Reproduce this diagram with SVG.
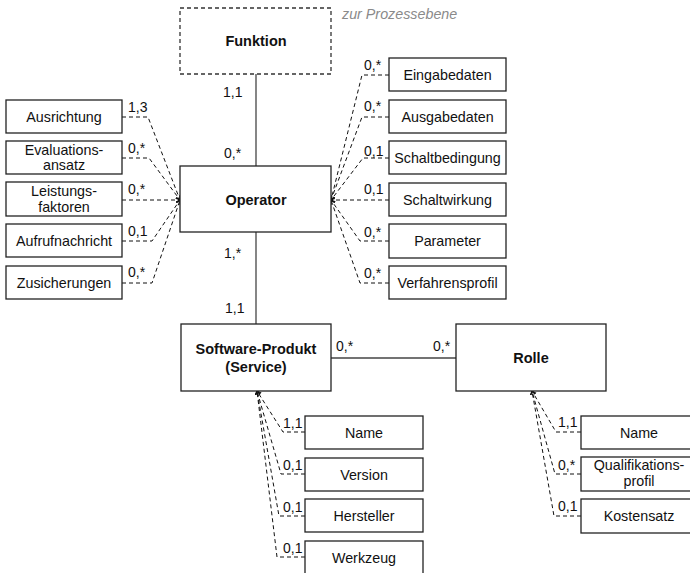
<svg xmlns="http://www.w3.org/2000/svg" width="690" height="573" viewBox="0 0 690 573">
  <style>
    .box { fill: #fff; stroke: #222; stroke-width: 1.3; }
    .dbox { fill: #fff; stroke: #333; stroke-width: 1.3; stroke-dasharray: 4 3; }
    .t { font-family: "Liberation Sans", Arial, sans-serif; font-size: 14.3px; fill: #111; text-anchor: middle; }
    .b { font-weight: bold; font-size: 14.5px; }
    .lbl { font-family: "Liberation Sans", Arial, sans-serif; font-size: 14px; fill: #111; }
    .note { font-family: "Liberation Sans", Arial, sans-serif; font-size: 14.3px; font-style: italic; fill: #8a8a8a; }
    .solid { fill: none; stroke: #444; stroke-width: 1.3; }
    .dash { fill: none; stroke: #111; stroke-width: 1; stroke-dasharray: 4 3; marker-end: url(#tip); }
  </style>
  <defs>
    <marker id="tip" markerUnits="userSpaceOnUse" markerWidth="6" markerHeight="6" refX="4" refY="2.5" orient="auto">
      <path d="M0,0 L4,2.5 L0,5" fill="none" stroke="#111" stroke-width="1"/>
    </marker>
  </defs>

  <!-- connectors -->
  <g id="connectors">
    <path class="solid" d="M256,74 V166"/>
    <path class="solid" d="M256,232 V324"/>
    <path class="solid" d="M331,358 H456"/>

    <path class="dash" d="M122,117 H148 L180,200"/>
    <path class="dash" d="M122,158 H149 L180,200"/>
    <path class="dash" d="M122,200 H180"/>
    <path class="dash" d="M122,241 H152 L180,200"/>
    <path class="dash" d="M122,283 H152 L180,200"/>

    <path class="dash" d="M389,75 H362 L331,200"/>
    <path class="dash" d="M389,117 H362 L331,200"/>
    <path class="dash" d="M389,158 H363 L331,200"/>
    <path class="dash" d="M389,200 H331"/>
    <path class="dash" d="M389,241 H360 L331,200"/>
    <path class="dash" d="M389,283 H360 L331,200"/>

    <path class="dash" d="M305,432 H283 L257,391"/>
    <path class="dash" d="M305,474 H281 L257,391"/>
    <path class="dash" d="M305,516 H279 L257,391"/>
    <path class="dash" d="M305,557 H277 L257,391"/>

    <path class="dash" d="M581,432 H556 L532,391"/>
    <path class="dash" d="M581,474 H555 L532,391"/>
    <path class="dash" d="M581,516 H554 L532,391"/>

    <!-- multiplicities -->
    <text class="lbl" x="223" y="97">1,1</text>
    <text class="lbl" x="224" y="158">0,*</text>
    <text class="lbl" x="224" y="258">1,*</text>
    <text class="lbl" x="225" y="313">1,1</text>
    <text class="lbl" x="336" y="351">0,*</text>
    <text class="lbl" x="433" y="351">0,*</text>

    <text class="lbl" x="128" y="112">1,3</text>
    <text class="lbl" x="128" y="153">0,*</text>
    <text class="lbl" x="128" y="194">0,*</text>
    <text class="lbl" x="128" y="236">0,1</text>
    <text class="lbl" x="128" y="277">0,*</text>

    <text class="lbl" x="364" y="70">0,*</text>
    <text class="lbl" x="364" y="111">0,*</text>
    <text class="lbl" x="364" y="156">0,1</text>
    <text class="lbl" x="364" y="194">0,1</text>
    <text class="lbl" x="364" y="237">0,*</text>
    <text class="lbl" x="364" y="278">0,*</text>

    <text class="lbl" x="283" y="428">1,1</text>
    <text class="lbl" x="283" y="470">0,1</text>
    <text class="lbl" x="283" y="512">0,1</text>
    <text class="lbl" x="283" y="553">0,1</text>

    <text class="lbl" x="558" y="427">1,1</text>
    <text class="lbl" x="558" y="470">0,*</text>
    <text class="lbl" x="558" y="511">0,1</text>
  </g>

  <!-- main entities -->
  <g id="funktion">
    <rect class="dbox" x="180" y="8" width="151" height="66"/>
    <text class="t b" x="256" y="46">Funktion</text>
    <text class="note" x="342" y="19">zur Prozessebene</text>
  </g>
  <g id="operator">
    <rect class="box" x="180" y="166" width="151" height="66"/>
    <text class="t b" x="256" y="205">Operator</text>
  </g>
  <g id="software-produkt">
    <rect class="box" x="181" y="324" width="150" height="67"/>
    <text class="t b" x="256" y="354">Software-Produkt</text>
    <text class="t b" x="256" y="372">(Service)</text>
  </g>
  <g id="rolle">
    <rect class="box" x="456" y="324" width="150" height="67"/>
    <text class="t b" x="531" y="363">Rolle</text>
  </g>

  <!-- operator attributes, left -->
  <g id="ausrichtung">
    <rect class="box" x="6" y="100" width="116" height="33"/>
    <text class="t" x="64" y="121.5">Ausrichtung</text>
  </g>
  <g id="evaluationsansatz">
    <rect class="box" x="6" y="141" width="116" height="33"/>
    <text class="t" x="64" y="155">Evaluations-</text>
    <text class="t" x="64" y="170">ansatz</text>
  </g>
  <g id="leistungsfaktoren">
    <rect class="box" x="6" y="182" width="116" height="34"/>
    <text class="t" x="64" y="196">Leistungs-</text>
    <text class="t" x="64" y="212">faktoren</text>
  </g>
  <g id="aufrufnachricht">
    <rect class="box" x="6" y="224" width="116" height="33"/>
    <text class="t" x="64" y="245.5">Aufrufnachricht</text>
  </g>
  <g id="zusicherungen">
    <rect class="box" x="6" y="266" width="116" height="33"/>
    <text class="t" x="64" y="287.5">Zusicherungen</text>
  </g>

  <!-- operator attributes, right -->
  <g id="eingabedaten">
    <rect class="box" x="389" y="58" width="117" height="33"/>
    <text class="t" x="447.5" y="79.5">Eingabedaten</text>
  </g>
  <g id="ausgabedaten">
    <rect class="box" x="389" y="100" width="117" height="33"/>
    <text class="t" x="447.5" y="121.5">Ausgabedaten</text>
  </g>
  <g id="schaltbedingung">
    <rect class="box" x="389" y="141" width="117" height="33"/>
    <text class="t" x="447.5" y="162.5">Schaltbedingung</text>
  </g>
  <g id="schaltwirkung">
    <rect class="box" x="389" y="183" width="117" height="33"/>
    <text class="t" x="447.5" y="204.5">Schaltwirkung</text>
  </g>
  <g id="parameter">
    <rect class="box" x="389" y="224" width="117" height="34"/>
    <text class="t" x="447.5" y="246">Parameter</text>
  </g>
  <g id="verfahrensprofil">
    <rect class="box" x="389" y="266" width="117" height="33"/>
    <text class="t" x="447.5" y="287.5">Verfahrensprofil</text>
  </g>

  <!-- software product attributes -->
  <g id="sw-name">
    <rect class="box" x="305" y="416" width="118" height="33"/>
    <text class="t" x="364" y="437.5">Name</text>
  </g>
  <g id="sw-version">
    <rect class="box" x="305" y="458" width="118" height="33"/>
    <text class="t" x="364" y="479.5">Version</text>
  </g>
  <g id="sw-hersteller">
    <rect class="box" x="305" y="499" width="118" height="33"/>
    <text class="t" x="364" y="520.5">Hersteller</text>
  </g>
  <g id="sw-werkzeug">
    <rect class="box" x="305" y="541" width="118" height="33"/>
    <text class="t" x="364" y="562.5">Werkzeug</text>
  </g>

  <!-- role attributes -->
  <g id="rolle-name">
    <rect class="box" x="581" y="416" width="116" height="33"/>
    <text class="t" x="639" y="437.5">Name</text>
  </g>
  <g id="qualifikationsprofil">
    <rect class="box" x="581" y="457" width="116" height="34"/>
    <text class="t" x="639" y="470">Qualifikations-</text>
    <text class="t" x="639" y="486">profil</text>
  </g>
  <g id="kostensatz">
    <rect class="box" x="581" y="499" width="116" height="34"/>
    <text class="t" x="639" y="521">Kostensatz</text>
  </g>
</svg>
